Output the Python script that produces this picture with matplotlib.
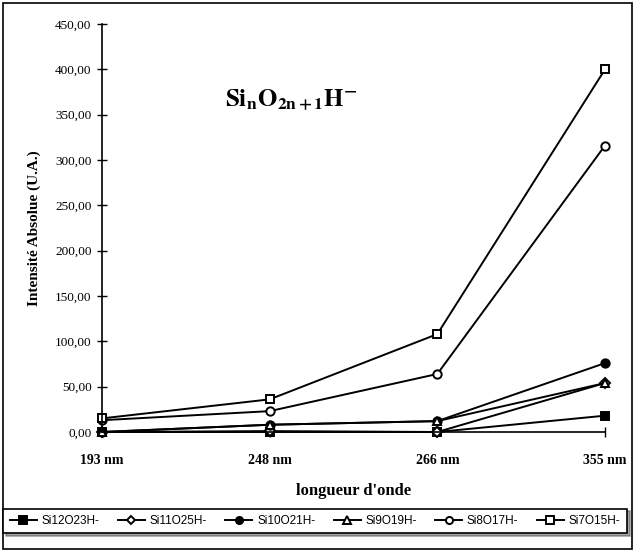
import matplotlib
matplotlib.use("Agg")
import matplotlib.pyplot as plt
from matplotlib.patches import Rectangle
from matplotlib.ticker import FuncFormatter

plt.rcParams['font.family'] = ['Liberation Serif', 'DejaVu Serif']
plt.rcParams['mathtext.fontset'] = 'stix'

# data
wavelengths = ['193 nm', '248 nm', '266 nm', '355 nm']
si12o23h = [0, 0, 0, 18]
si11o25h = [0, 1, 0, 54]
si10o21h = [0, 8, 12, 76]
si9o19h = [0, 8, 12, 54]
si8o17h = [13, 23, 64, 316]
si7o15h = [15, 36, 108, 400]

series = [
    ('Si12O23H-', si12o23h, 's', 'black'),
    ('Si11O25H-', si11o25h, 'D', 'white'),
    ('Si10O21H-', si10o21h, 'o', 'black'),
    ('Si9O19H-', si9o19h, '^', 'white'),
    ('Si8O17H-', si8o17h, 'o', 'white'),
    ('Si7O15H-', si7o15h, 's', 'white'),
]

fig = plt.figure(figsize=(6.35, 5.52), dpi=100)
ax = fig.add_axes([0.1606, 0.2174, 0.7922, 0.7391])

x = list(range(len(wavelengths)))
for name, vals, mk, fc in series:
    ms = 5 if mk == 'D' else 6
    ax.plot(x, vals, color='black', lw=1.4, marker=mk, ms=ms,
            mfc=fc, mec='black', mew=1.4, label=name, clip_on=False)

ax.set_xlim(0, 3)
ax.set_ylim(0, 450)
ax.set_yticks(range(0, 451, 50))
ax.yaxis.set_major_formatter(FuncFormatter(lambda v, p: ('%.2f' % v).replace('.', ',')))
ax.set_xticks(x)
ax.set_xticklabels(wavelengths, fontweight='bold', fontsize=10)
for lab in ax.get_yticklabels():
    lab.set_fontsize(9.5)
ax.tick_params(axis='y', direction='inout', length=7, width=1, pad=4)
ax.tick_params(axis='x', direction='inout', length=7, width=1, pad=12)
for s in ['top', 'right']:
    ax.spines[s].set_visible(False)
ax.spines['left'].set_linewidth(1.2)
ax.spines['bottom'].set_linewidth(1.2)

ax.set_ylabel('Intensité Absolue (U.A.)', fontweight='bold', fontsize=11, labelpad=10)
ax.set_xlabel("longueur d'onde", fontweight='bold', fontsize=12, labelpad=12)

fig.text(225 / 635, 1 - 100 / 552, r'$\mathbf{Si_{n}O_{2n+1}H^{-}}$',
         fontsize=18, ha='left', va='center')

leg = fig.legend(loc='center', bbox_to_anchor=(315 / 635, 1 - 521 / 552),
                 bbox_transform=fig.transFigure,
                 ncol=6, frameon=True, fancybox=False, shadow=True, edgecolor='black',
                 prop={'family': 'Liberation Sans', 'size': 8.5}, handlelength=2.3,
                 markerscale=0.85, handletextpad=0.4, columnspacing=1.55, borderpad=0.55)
leg.get_frame().set_linewidth(1.2)

fig.patches.append(Rectangle((0.005, 0.005), 0.99, 0.99, transform=fig.transFigure,
                             fill=False, edgecolor='black', lw=1.2))

fig.savefig('out.png', dpi=100)
